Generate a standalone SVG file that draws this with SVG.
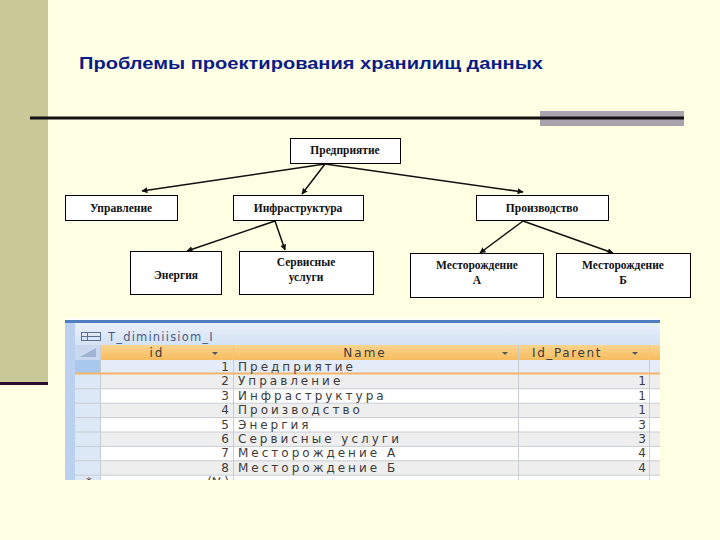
<svg xmlns="http://www.w3.org/2000/svg" width="720" height="540" viewBox="0 0 720 540">
<defs>
<style>
.box{fill:#ffffff;stroke:#000;stroke-width:1}
.bt{font-family:"Liberation Serif",serif;font-size:11.5px;font-weight:bold;fill:#111;text-anchor:middle}
.con{stroke:#111;stroke-width:1.5;fill:none;marker-end:url(#ah)}
.tt{font-family:"DejaVu Sans",sans-serif;font-size:12px;fill:#3c3c3c;letter-spacing:3px}
.tn{font-family:"DejaVu Sans",sans-serif;font-size:12px;fill:#3c3c3c;text-anchor:end}
.grid{stroke:#c9ccd2;stroke-width:1}
</style>
<marker id="ah" viewBox="0 0 10 10" refX="9" refY="5" markerWidth="6" markerHeight="6" orient="auto" markerUnits="userSpaceOnUse">
<path d="M0,0 L10,5 L0,10 z" fill="#111"/>
</marker>
<linearGradient id="hdr" x1="0" y1="0" x2="0" y2="1">
<stop offset="0" stop-color="#fbd48e"/><stop offset="1" stop-color="#f6bc5e"/>
</linearGradient>
<linearGradient id="ttl" x1="0" y1="0" x2="0" y2="1">
<stop offset="0" stop-color="#e9f0fa"/><stop offset="1" stop-color="#d4e2f4"/>
</linearGradient>
<clipPath id="tclip"><rect x="60" y="315" width="610" height="165"/></clipPath>
</defs>
<rect x="0" y="0" width="720" height="540" fill="#ffffe4"/>
<rect x="0" y="0" width="48" height="382" fill="#c9c998"/>
<rect x="0" y="382" width="48" height="3" fill="#2b0b2e"/>
<text x="79" y="69" font-family="Liberation Sans,Arial,sans-serif" font-size="16" font-weight="bold" fill="#0b1c86" textLength="464" lengthAdjust="spacingAndGlyphs">Проблемы проектирования хранилищ данных</text>
<rect x="540" y="111" width="144" height="15" fill="#aaa2ad"/>
<line x1="30" y1="118" x2="684" y2="118" stroke="#111" stroke-width="3"/>

<g id="connectors">
<line class="con" x1="325" y1="164" x2="142" y2="191"/>
<line class="con" x1="325" y1="164" x2="302" y2="194"/>
<line class="con" x1="325" y1="164" x2="523" y2="192"/>
<line class="con" x1="275" y1="221" x2="187" y2="251"/>
<line class="con" x1="275" y1="221" x2="285" y2="250"/>
<line class="con" x1="523" y1="221" x2="480" y2="253"/>
<line class="con" x1="523" y1="221" x2="613" y2="253"/>
</g>

<g id="n1"><rect class="box" x="290.5" y="138.5" width="110" height="25"/><text class="bt" x="345" y="154">Предприятие</text></g>
<g id="n2"><rect class="box" x="65.5" y="195.5" width="112" height="25"/><text class="bt" x="121" y="212">Управление</text></g>
<g id="n3"><rect class="box" x="233.5" y="195.5" width="130" height="25"/><text class="bt" x="298" y="212">Инфраструктура</text></g>
<g id="n4"><rect class="box" x="476.5" y="195.5" width="132" height="25"/><text class="bt" x="542" y="212">Производство</text></g>
<g id="n5"><rect class="box" x="130.5" y="251.5" width="91" height="43"/><text class="bt" x="176" y="279">Энергия</text></g>
<g id="n6"><rect class="box" x="239.5" y="251.5" width="134" height="43"/><text class="bt" x="306" y="266">Сервисные</text><text class="bt" x="306" y="281">услуги</text></g>
<g id="n7"><rect class="box" x="410.5" y="253.5" width="133" height="44"/><text class="bt" x="477" y="269">Месторождение</text><text class="bt" x="477" y="284">А</text></g>
<g id="n8"><rect class="box" x="556.5" y="253.5" width="134" height="44"/><text class="bt" x="623" y="269">Месторождение</text><text class="bt" x="623" y="284">Б</text></g>

<g id="table" clip-path="url(#tclip)">
<rect x="65" y="318" width="595" height="170" fill="#ffffff"/>
<rect x="65" y="320" width="595" height="3" fill="#4f7fc0"/>
<rect x="65" y="323" width="595" height="22" fill="url(#ttl)"/>
<rect x="65" y="323" width="10" height="170" fill="#bcd1ef"/>
<g fill="none" stroke="#5a6f96" stroke-width="1">
<rect x="81.5" y="332.5" width="19" height="8"/>
<line x1="81" y1="336.5" x2="101" y2="336.5"/>
<line x1="87.5" y1="333" x2="87.5" y2="341"/>
</g>
<text x="108" y="341" font-family="DejaVu Sans,sans-serif" font-size="11.5" fill="#4a5a86" letter-spacing="1.2">T_diminiisiom_I</text>
<rect x="75" y="345" width="585" height="15" fill="url(#hdr)"/>
<rect x="75" y="345" width="25" height="15" fill="#c9d8ee"/>
<path d="M80,357 L96,348 L96,357 z" fill="#9fb4d4"/>
<text x="157" y="357" font-family="DejaVu Sans,sans-serif" font-size="12" fill="#3c3c3c" text-anchor="middle" letter-spacing="2">id</text>
<text x="365" y="357" font-family="DejaVu Sans,sans-serif" font-size="12" fill="#3c3c3c" text-anchor="middle" letter-spacing="2">Name</text>
<text x="532" y="357" font-family="DejaVu Sans,sans-serif" font-size="12" fill="#3c3c3c" letter-spacing="1.6">Id_Parent</text>
<g fill="#555">
<path d="M212,352 L218,352 L215,355 z"/>
<path d="M502,352 L508,352 L505,355 z"/>
<path d="M632,352 L638,352 L635,355 z"/>
</g>
<rect x="75" y="360" width="25" height="14" fill="#a9c8ee"/>
<rect x="100" y="360" width="560" height="14" fill="#e3ecf8"/>
<rect x="75" y="374" width="25" height="110" fill="#dde8f6"/>
<rect x="100" y="374.4" width="560" height="14.4" fill="#eeeeee"/>
<rect x="100" y="403.2" width="560" height="14.4" fill="#eeeeee"/>
<rect x="100" y="432" width="560" height="14.4" fill="#eeeeee"/>
<rect x="100" y="460.8" width="560" height="14.4" fill="#eeeeee"/>
<g class="grid">
<line x1="75" y1="388.8" x2="660" y2="388.8"/>
<line x1="75" y1="403.2" x2="660" y2="403.2"/>
<line x1="75" y1="417.6" x2="660" y2="417.6"/>
<line x1="75" y1="432" x2="660" y2="432"/>
<line x1="75" y1="446.4" x2="660" y2="446.4"/>
<line x1="75" y1="460.8" x2="660" y2="460.8"/>
<line x1="75" y1="475.2" x2="660" y2="475.2"/>
<line x1="100.5" y1="345" x2="100.5" y2="484"/>
<line x1="233.5" y1="345" x2="233.5" y2="484"/>
<line x1="518.5" y1="345" x2="518.5" y2="484"/>
<line x1="649.5" y1="345" x2="649.5" y2="484"/>
</g>
<line x1="75" y1="373.5" x2="660" y2="373.5" stroke="#f3b467" stroke-width="2"/>
<text class="tn" x="229" y="371">1</text><text class="tt" x="238" y="371">Предприятие</text>
<text class="tn" x="229" y="385.4">2</text><text class="tt" x="238" y="385.4">Управление</text><text class="tn" x="646" y="385.4">1</text>
<text class="tn" x="229" y="399.8">3</text><text class="tt" x="238" y="399.8">Инфраструктура</text><text class="tn" x="646" y="399.8">1</text>
<text class="tn" x="229" y="414.2">4</text><text class="tt" x="238" y="414.2">Производство</text><text class="tn" x="646" y="414.2">1</text>
<text class="tn" x="229" y="428.6">5</text><text class="tt" x="238" y="428.6">Энергия</text><text class="tn" x="646" y="428.6">3</text>
<text class="tn" x="229" y="443">6</text><text class="tt" x="238" y="443">Сервисные услуги</text><text class="tn" x="646" y="443">3</text>
<text class="tn" x="229" y="457.4">7</text><text class="tt" x="238" y="457.4">Месторождение А</text><text class="tn" x="646" y="457.4">4</text>
<text class="tn" x="229" y="471.8">8</text><text class="tt" x="238" y="471.8">Месторождение Б</text><text class="tn" x="646" y="471.8">4</text>
<text x="86" y="486" font-family="DejaVu Sans,sans-serif" font-size="11.5" fill="#3c3c3c">*</text>
<text class="tn" x="229" y="486">(№)</text>
</g>
</svg>
